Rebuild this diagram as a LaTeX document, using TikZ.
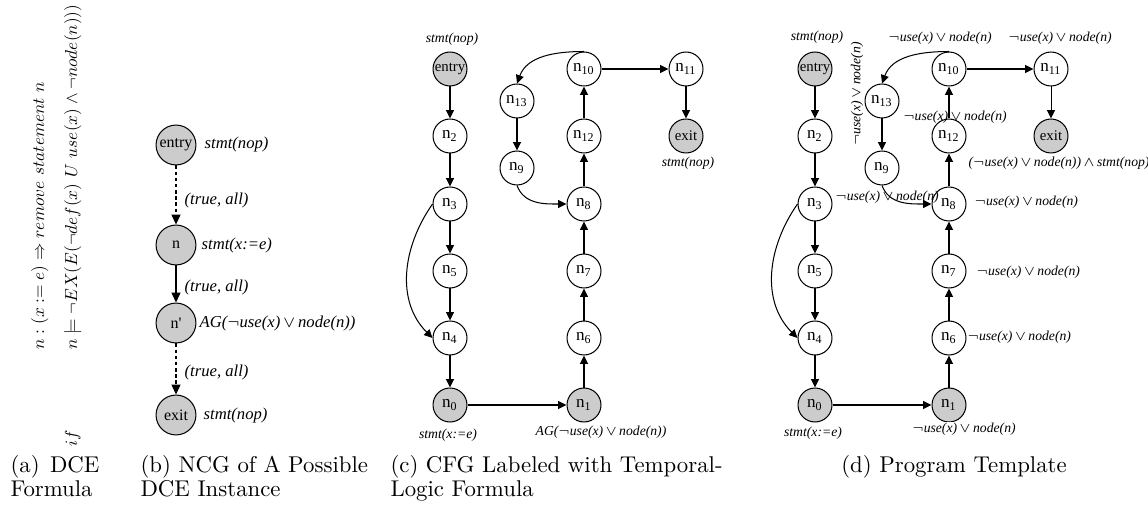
\documentclass[tikz,border=0pt]{standalone}
\usepackage{fontspec}
\usepackage{amssymb}
\usepackage{graphicx}
\usetikzlibrary{arrows.meta}
\newfontfamily\tms{Liberation Serif}
\newcommand\nsub[1]{n\textsubscript{#1}}
\newcommand\useor{$\neg$\textit{use}(\textit{x})\,$\vee$\,\textit{node}(\textit{n})}
\tikzset{
  st/.style={circle, draw, minimum size=14.9pt, inner sep=0pt, font=\tms\fontsize{7.5}{8}\selectfont},
  gst/.style={st, fill=gray!40},
  wrd/.style={font=\tms\fontsize{6.5}{7}\selectfont},
  bnode/.style={circle, draw, fill=gray!40, minimum size=17.5pt, inner sep=0pt, font=\tms\fontsize{7}{8}\selectfont},
  arr/.style={-{Triangle[length=3.7pt,width=3.5pt]}},
  barr/.style={-{Triangle[length=4.4pt,width=4pt]}},
  dsh/.style={dash pattern=on 1.5pt off 1.2pt},
  lab/.style={font=\tms\itshape\fontsize{6}{7}\selectfont, inner sep=0.5pt},
  blab/.style={font=\tms\itshape\fontsize{7.3}{8}\selectfont, inner sep=0.5pt, anchor=west},
  captxt/.style={anchor=base west, inner sep=0pt, font=\normalfont\fontsize{10}{12}\selectfont},
  rot/.style={rotate=90, anchor=base west, inner sep=0pt},
}
% control-flow graph with prefix #1, shifted by #2 units
\newcommand\cfg[2]{%
\begin{scope}[shift={(#2,0)}]
\node[gst,wrd] (#1-e) at (450,438) {entry};
\node[st] (#1-2) at (450,371) {\nsub{2}};
\node[st] (#1-3) at (450,303) {\nsub{3}};
\node[st] (#1-5) at (450,236) {\nsub{5}};
\node[st] (#1-4) at (450,169) {\nsub{4}};
\node[gst] (#1-0) at (450,102) {\nsub{0}};
\node[st] (#1-13) at (517,406) {\nsub{13}};
\node[st] (#1-9) at (517,339) {\nsub{9}};
\node[st] (#1-10) at (584,438) {\nsub{10}};
\node[st] (#1-12) at (584,371) {\nsub{12}};
\node[st] (#1-8) at (584,303) {\nsub{8}};
\node[st] (#1-7) at (584,236) {\nsub{7}};
\node[st] (#1-6) at (584,169) {\nsub{6}};
\node[gst] (#1-1) at (584,102) {\nsub{1}};
\node[st] (#1-11) at (686,438) {\nsub{11}};
\node[gst,wrd] (#1-x) at (686,371) {exit};
\draw[arr] (#1-e) -- (#1-2);
\draw[arr] (#1-2) -- (#1-3);
\draw[arr] (#1-3) -- (#1-5);
\draw[arr] (#1-5) -- (#1-4);
\draw[arr] (#1-4) -- (#1-0);
\draw[arr] (#1-0) -- (#1-1);
\draw[arr] (#1-1) -- (#1-6);
\draw[arr] (#1-6) -- (#1-7);
\draw[arr] (#1-7) -- (#1-8);
\draw[arr] (#1-8) -- (#1-12);
\draw[arr] (#1-12) -- (#1-10);
\draw[arr] (#1-10) -- (#1-11);
\draw[arr] (#1-11) -- (#1-x);
\draw[arr] (#1-13) -- (#1-9);
\draw[arr] (#1-10.north) to[out=180,in=70] (#1-13.north);
\draw[arr] (#1-9.south) to[out=-70,in=180] (#1-8.west);
\draw[arr] (#1-3.west) to[out=235,in=135] (#1-4.west);
\end{scope}}

\begin{document}
\begin{tikzpicture}[x=0.4386pt, y=0.4386pt, line width=0.45pt]
\useasboundingbox (0,0) rectangle (1148,507);

% (a) the transformation rule, set sideways
\node[rot] (fa1) at (44,157) {\scalebox{0.76}{$n:(x:=e)\Rightarrow remove\ statement\ n$}};
\node[rot] (fa2) at (77,157) {\scalebox{0.76}{$n\models\neg EX(E(\neg def(x)\ U\ use(x)\wedge\neg node(n)))$}};
\node[rot] (fif) at (77,60) {\scalebox{0.76}{$if$}};
\node[captxt] (capa1) at (10,35) {(a)};
\node[captxt, anchor=base east] (capa2) at (100,35) {DCE};
\node[captxt] (capa3) at (10,11) {Formula};

% (b) node-constraint graph
\node[bnode] (be) at (176,362) {entry};
\node[bnode] (bn) at (176,262) {n};
\node[bnode] (bp) at (176,184) {n'};
\node[bnode] (bx) at (176,92) {exit};
\draw[barr, dsh] (be) -- (bn);
\draw[barr] (bn) -- (bp);
\draw[barr, dsh] (bp) -- (bx);
\node[blab] (bl1) at (203,362) {stmt(nop)};
\node[blab] (bl2) at (183,307) {(true, all)};
\node[blab] (bl3) at (200,262) {stmt(x:=e)};
\node[blab] (bl4) at (183,220) {(true, all)};
\node[blab] (bl5) at (198,184) {\textit{AG}(\useor)};
\node[blab] (bl6) at (183,135) {(true, all)};
\node[blab] (bl7) at (202,92) {stmt(nop)};
\node[captxt] (capb1) at (140,35) {(b) NCG of A Possible};
\node[captxt] (capb2) at (140,11) {DCE Instance};

% (c) labelled control-flow graph
\cfg{c}{0}
\node[lab] (cl1) at (452,468) {stmt(nop)};
\node[lab] (cl2) at (688,344) {stmt(nop)};
\node[lab] (cl3) at (448,72) {stmt(x:=e)};
\node[lab] (cl4) at (601,75) {\textit{AG}(\useor)};
\node[captxt] (capc1) at (390,35) {(c) CFG Labeled with Temporal-};
\node[captxt] (capc2) at (390,11) {Logic Formula};

% (d) program template
\cfg{d}{365}
\node[lab] (dl1) at (817,470) {stmt(nop)};
\node[lab] (dl2) at (940,469) {\useor};
\node[lab] (dl3) at (1060,469) {\useor};
\node[lab, rotate=90] (dl4) at (857,413) {\useor};
\node[lab] (dl5) at (955,390) {\useor};
\node[lab, anchor=west] (dl6) at (967,344) {(\useor)\,$\wedge$\,stmt(nop)};
\node[lab] (dl7) at (887,310) {\useor};
\node[lab, anchor=west] (dl8) at (973,305) {\useor};
\node[lab, anchor=west] (dl9) at (975,235) {\useor};
\node[lab, anchor=west, fill=white] (dl10) at (966,170) {\useor};
\node[lab, fill=white] (dl11) at (964,78) {\useor};
\node[lab] (dl12) at (813,74) {stmt(x:=e)};
\node[captxt, anchor=base] (capd) at (954,35) {(d) Program Template};
\end{tikzpicture}
\end{document}
